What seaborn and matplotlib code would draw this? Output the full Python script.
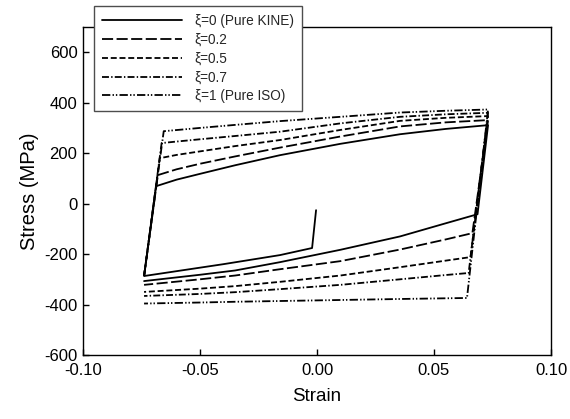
import numpy as np
import pandas as pd
import seaborn as sns
import matplotlib.pyplot as plt

sns.set_theme(style="white")
plt.rcParams['font.family'] = ['Liberation Sans', 'DejaVu Sans']
plt.rcParams['lines.scale_dashes'] = False
plt.rcParams['axes.unicode_minus'] = False

# labels of the five hardening ratios
labels = ["ξ=0 (Pure KINE)", "ξ=0.2", "ξ=0.5", "ξ=0.7", "ξ=1 (Pure ISO)"]

# first loading (common to all curves), strain / stress in MPa
init_x = [-0.0004, -0.0021, -0.0158, -0.040, -0.0739]
init_y = [-26, -176, -204, -240, -287]

# upper (tension) branches
up_x_0 = [-0.0688, -0.060, -0.050, -0.035, -0.0158, 0.010, 0.0355, 0.055, 0.0731]
up_y_0 = [69, 95, 118, 152, 192, 237, 275, 296, 311]
up_x_02 = [-0.0680, -0.060, -0.050, -0.035, -0.0158, 0.010, 0.0355, 0.055, 0.0731]
up_y_02 = [113, 136, 158, 187, 222, 266, 306, 322, 331]
up_x_05 = [-0.0672, -0.060, -0.050, -0.035, -0.0158, 0.010, 0.0355, 0.055, 0.0731]
up_y_05 = [180, 193, 207, 228, 252, 292, 328, 340, 347]
up_x_07 = [-0.0664, -0.060, -0.050, -0.035, -0.0158, 0.010, 0.0355, 0.055, 0.0731]
up_y_07 = [240, 246, 255, 268, 285, 318, 344, 354, 360]
up_x_1 = [-0.0655, -0.050, -0.035, -0.0158, 0.010, 0.0355, 0.055, 0.0731]
up_y_1 = [287, 300, 312, 327, 344, 361, 368, 373]

# lower (compression) branches
lo_x_0 = [0.0686, 0.055, 0.0355, 0.010, -0.0158, -0.035, -0.050, -0.0739]
lo_y_0 = [-42, -78, -130, -183, -232, -265, -282, -307]
lo_x_02 = [0.0664, 0.055, 0.0355, 0.010, -0.0158, -0.035, -0.050, -0.0739]
lo_y_02 = [-117, -142, -182, -228, -260, -285, -300, -322]
lo_x_05 = [0.0656, 0.055, 0.0355, 0.010, -0.0158, -0.035, -0.050, -0.0739]
lo_y_05 = [-212, -226, -252, -285, -310, -327, -337, -350]
lo_x_07 = [0.0648, 0.055, 0.0355, 0.010, -0.0158, -0.035, -0.050, -0.0739]
lo_y_07 = [-275, -283, -300, -322, -339, -351, -358, -366]
lo_x_1 = [0.0641, 0.0355, 0.010, -0.0158, -0.035, -0.050, -0.0739]
lo_y_1 = [-374, -378, -382, -386, -389, -392, -396]

x_ticks = [-0.10, -0.05, 0.00, 0.05, 0.10]
y_ticks = [-600, -400, -200, 0, 200, 400, 600]

ups = [(up_x_0, up_y_0), (up_x_02, up_y_02), (up_x_05, up_y_05), (up_x_07, up_y_07), (up_x_1, up_y_1)]
los = [(lo_x_0, lo_y_0), (lo_x_02, lo_y_02), (lo_x_05, lo_y_05), (lo_x_07, lo_y_07), (lo_x_1, lo_y_1)]

styles = ['-', (0, (8, 2.5)), (0, (4.3, 2)), (0, (5, 1.6, 1, 1.6)), (0, (6, 1.6, 1, 1.4, 1, 1.6))]

fig = plt.figure(figsize=(5.7, 4.19), dpi=100)
ax = fig.add_axes([83/570, 1-355/419, 468/570, 328/419])

for i, lab in enumerate(labels):
    # path: (first loading for the solid) -> corner -> upper branch -> lower branch
    if i == 0:
        xs = init_x + ups[i][0] + los[i][0]
        ys = init_y + ups[i][1] + los[i][1]
    else:
        xs = [init_x[-1]] + ups[i][0] + los[i][0]
        ys = [init_y[-1]] + ups[i][1] + los[i][1]
    df = pd.DataFrame({'strain': xs, 'stress': ys})
    sns.lineplot(data=df, x='strain', y='stress', sort=False, estimator=None,
                 color='black', lw=1.3, linestyle=styles[i], label=lab, ax=ax)

ax.set_xlim(-0.10, 0.10)
ax.set_ylim(-600, 700)
ax.set_xticks(x_ticks)
ax.set_xticklabels([f"{t:.2f}" for t in x_ticks])
ax.set_yticks(y_ticks)
ax.tick_params(direction='in', length=4, width=1, bottom=True, left=True,
               top=False, right=False, labelsize=12, colors='black')
ax.tick_params(axis='x', pad=6)
ax.tick_params(axis='y', pad=4)
for sp in ax.spines.values():
    sp.set_color('black')
    sp.set_linewidth(1)

ax.set_xlabel('Strain', fontsize=13.5, color='black', labelpad=7)
ax.set_ylabel('Stress (MPa)', fontsize=14.5, color='black', labelpad=4)

ax.legend(loc='upper left', bbox_to_anchor=(94/570, 1-6/419), bbox_transform=fig.transFigure,
          borderaxespad=0, frameon=True, fancybox=False, edgecolor='0.3', framealpha=1,
          fontsize=9.8, handlelength=5.9, handletextpad=0.9, labelspacing=0.35, borderpad=0.6)
ax.get_legend().get_frame().set_linewidth(1.0)

plt.savefig('out.png', dpi=100)
